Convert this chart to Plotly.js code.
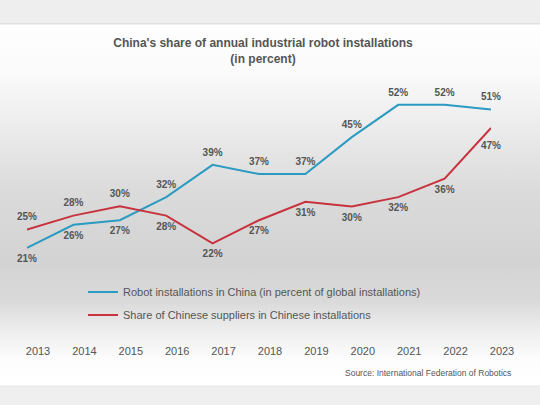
<!DOCTYPE html>
<html>
<head>
<meta charset="utf-8">
<script src="https://cdn.plot.ly/plotly-3.0.1.min.js"></script>
<style>
html,body{margin:0;padding:0;width:540px;height:405px;overflow:hidden}
#wrap{position:relative;width:540px;height:405px;
  background:linear-gradient(to bottom,#eeeeee 0px,#eeeeee 23px,#e0e0e0 23px,#e0e0e0 24px,#fefefe 25px,#fbfbfb 70px,#ebebeb 130px,#dbdbdb 190px,#d3d3d3 260px,#d9d9d9 300px,#ededed 330px,#fdfdfd 360px,#ffffff 385px,#e8e8e8 386px,#efefef 387px,#efefef 405px)}
#chart{position:absolute;left:0;top:0;width:540px;height:405px}
</style>
</head>
<body>
<div id="wrap"><div id="chart"></div></div>
<script>
// data
const years = [2013,2014,2015,2016,2017,2018,2019,2020,2021,2022,2023]
const chinaShare = [21,26,27,32,39,37,37,45,52,52,51]
const supplierShare = [25,28,30,28,22,27,31,30,32,36,47]
const chinaName = 'Robot installations in China (in percent of global installations)'
const supplierName = 'Share of Chinese suppliers in Chinese installations'

const blue = '#2b9bc2'
const red = '#c8323e'
const grey = '#555555'
const font = 'Liberation Sans, Arial, sans-serif'

const chinaPos = ['bottom center','bottom center','bottom center','top center','top center','top center','top center','top center','top center','top center','top center']
const supplierPos = ['top center','top center','top center','bottom center','bottom center','bottom center','bottom center','bottom center','bottom center','bottom center','bottom center']

let mkTrace = (y, name, color, pos, grp, msize) => ({
    x: years, y: y, name: name, legendgroup: grp,
    type: 'scatter', mode: 'lines+markers+text',
    line: {color: color, width: 2},
    // transparent markers just push the labels off the line
    marker: {size: msize, color: 'rgba(0,0,0,0)', line: {width: 0, color: 'rgba(0,0,0,0)'}},
    text: y.map(v=>v+'%'),
    textposition: pos,
    textfont: {family: font, size: 10, color: grey, weight: 'bold'},
    cliponaxis: false
})

let traces = [
    mkTrace(chinaShare, chinaName, blue, chinaPos, 'a', 9),
    mkTrace(supplierShare, supplierName, red, supplierPos, 'b', years.map((_,i)=>i==years.length-1? 20 : 9))
]

let layout = {
    width: 540, height: 405,
    margin: {l: 27, r: 49, t: 91, b: 62},
    paper_bgcolor: 'rgba(0,0,0,0)',
    plot_bgcolor: 'rgba(0,0,0,0)',
    font: {family: font, color: grey},
    showlegend: true,
    title: {
        text: "<b>China's share of annual industrial robot installations<br>(in percent)</b>",
        font: {family: font, size: 12, color: grey},
        x: 263/540, xref: 'container', xanchor: 'center',
        y: 1-47/405, yref: 'container', yanchor: 'middle'
    },
    xaxis: {
        range: [2013, 2023],
        anchor: 'free', position: 0,
        tickmode: 'array', tickvals: years, ticktext: years.map(String),
        ticklabelshift: 11,
        showgrid: false, zeroline: false, showline: false, ticks: '',
        tickfont: {family: font, size: 11, color: grey}
    },
    yaxis: {
        range: [20, 55],
        domain: [0.359, 1],
        visible: false, showgrid: false, zeroline: false
    },
    legend: {
        x: (83 - 27)/464, xanchor: 'left',
        y: 0.26, yanchor: 'top',
        bgcolor: 'rgba(0,0,0,0)',
        tracegroupgap: 4,
        font: {family: font, size: 11, color: grey},
        itemclick: false
    },
    annotations: [{
        text: 'Source: International Federation of Robotics',
        xref: 'paper', yref: 'paper', x: (513-27)/464, y: -0.12,
        xanchor: 'right', yanchor: 'middle', showarrow: false,
        font: {family: font, size: 8.5, color: grey}
    }]
}

Plotly.newPlot(document.getElementById('chart'), traces, layout, {displayModeBar: false, staticPlot: true})
</script>
</body>
</html>
